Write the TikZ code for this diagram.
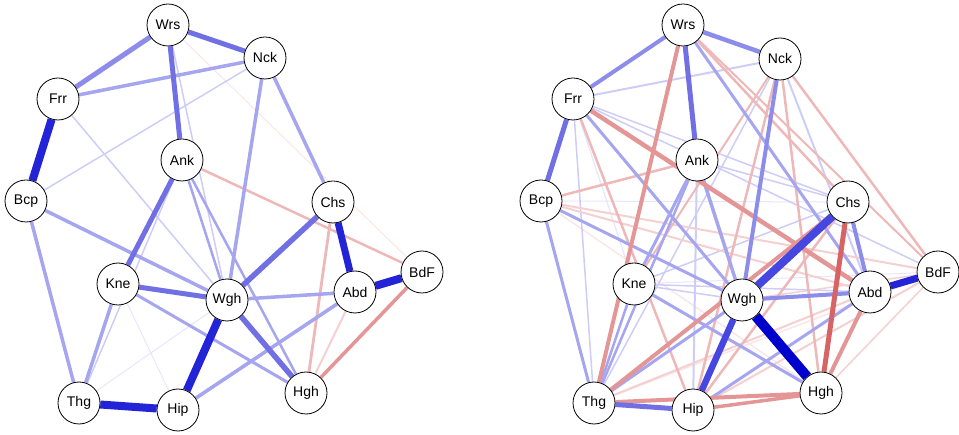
\documentclass[tikz,border=0pt]{standalone}
\usepackage{fontspec}
\setsansfont{Liberation Sans}
\usetikzlibrary{backgrounds}
\definecolor{B0}{RGB}{0,0,204}
\definecolor{B1}{RGB}{35,35,216}
\definecolor{Bx}{RGB}{70,70,224}
\definecolor{B2}{RGB}{112,112,228}
\definecolor{B2l}{RGB}{140,140,234}
\definecolor{B3}{RGB}{165,165,240}
\definecolor{B4}{RGB}{205,205,248}
\definecolor{B5}{RGB}{230,230,252}
\definecolor{R1}{RGB}{214,100,100}
\definecolor{R2}{RGB}{228,150,150}
\definecolor{R3}{RGB}{238,184,184}
\definecolor{R4}{RGB}{244,208,208}
\definecolor{R5}{RGB}{250,230,230}
\tikzset{
  nd/.style={circle,draw=black,line width=0.8pt,fill=white,minimum size=42pt,inner sep=0pt,
    font=\sffamily\fontsize{14}{16}\selectfont},
  ed/.style 2 args={draw=#1,line width=#2pt}
}
\begin{document}
\begin{tikzpicture}[x=1pt,y=-1pt]
\useasboundingbox (0,0) rectangle (959,435);
\foreach \n/\x/\y in {Wrs/168/25,Nck/265/58,Frr/58/99,Ank/182/160,Bcp/26/201,Chs/333/202,Kne/118/284,Wgh/227/300,Abd/355/292,BdF/422/272,Thg/79/403,Hip/178/410,Hgh/306/393}
  \node[nd] (l\n) at (\x,\y) {\n};
\foreach \n/\x/\y in {Wrs/683/25,Nck/780/59,Frr/573/99,Ank/697/160,Bcp/541/201,Chs/848/202,Kne/634/284,Wgh/742/300,Abd/870/292,BdF/938/272,Thg/594/403,Hip/693/410,Hgh/821/393}
  \node[nd] (r\n) at (\x,\y) {\n};
\begin{pgfonlayer}{background}
% ---------------- left network ----------------
\draw[ed={B5}{1}] (lThg) -- (lWgh);
\draw[ed={B5}{1}] (lKne) -- (lHip);
\draw[ed={R5}{1}] (lWrs) -- (lBdF);
\draw[ed={B4}{1.5}] (lBcp) -- (lNck);
\draw[ed={B4}{1.5}] (lFrr) -- (lWgh);
\draw[ed={B4}{1.5}] (lWrs) -- (lWgh);
\draw[ed={B4}{1.5}] (lAnk) -- (lThg);
\draw[ed={R4}{2}] (lAbd) -- (lHgh);
\draw[ed={R3}{2.5}] (lAnk) -- (lBdF);
\draw[ed={R3}{2.8}] (lChs) -- (lHgh);
\draw[ed={R2}{3.5}] (lBdF) -- (lHgh);
\draw[ed={B3}{2.5}] (lAnk) -- (lWgh);
\draw[ed={B3}{2.5}] (lAnk) -- (lHgh);
\draw[ed={B3}{3.5}] (lFrr) -- (lNck);
\draw[ed={B3}{3.5}] (lNck) -- (lWgh);
\draw[ed={B3}{3.5}] (lNck) -- (lChs);
\draw[ed={B3}{3.5}] (lBcp) -- (lThg);
\draw[ed={B3}{3.5}] (lBcp) -- (lWgh);
\draw[ed={B3}{3.5}] (lKne) -- (lThg);
\draw[ed={B3}{3.5}] (lWgh) -- (lAbd);
\draw[ed={B3}{3.5}] (lHip) -- (lAbd);
\draw[ed={B3}{3}] (lKne) -- (lHgh);
\draw[ed={B2l}{5}] (lWrs) -- (lFrr);
\draw[ed={B2}{5}] (lWrs) -- (lNck);
\draw[ed={B2}{5}] (lWrs) -- (lAnk);
\draw[ed={B2}{5}] (lAnk) -- (lKne);
\draw[ed={B2}{5}] (lKne) -- (lWgh);
\draw[ed={B2}{5.5}] (lChs) -- (lWgh);
\draw[ed={B2}{5.5}] (lWgh) -- (lHgh);
\draw[ed={B1}{7}] (lChs) -- (lAbd);
\draw[ed={B1}{8}] (lFrr) -- (lBcp);
\draw[ed={B1}{8}] (lThg) -- (lHip);
\draw[ed={B1}{8}] (lWgh) -- (lHip);
\draw[ed={B1}{8}] (lAbd) -- (lBdF);
% ---------------- right network ----------------
\draw[ed={B5}{1}] (rBcp) -- (rChs);
\draw[ed={B5}{1}] (rKne) -- (rBdF);
\draw[ed={R5}{1.5}] (rThg) -- (rBdF);
\draw[ed={R5}{1.5}] (rBcp) -- (rHgh);
\draw[ed={B5}{1.2}] (rFrr) -- (rKne);
\draw[ed={B4}{1.5}] (rKne) -- (rAbd);
\draw[ed={B4}{1.5}] (rKne) -- (rChs);
\draw[ed={B4}{1.5}] (rFrr) -- (rChs);
\draw[ed={B4}{1.5}] (rFrr) -- (rBdF);
\draw[ed={B4}{1.5}] (rFrr) -- (rThg);
\draw[ed={B4}{1.5}] (rAnk) -- (rChs);
\draw[ed={B4}{1.5}] (rKne) -- (rWgh);
\draw[ed={B4}{2}] (rAnk) -- (rHip);
\draw[ed={B4}{2}] (rFrr) -- (rNck);
\draw[ed={B4}{2}] (rNck) -- (rAbd);
\draw[ed={B4}{1.5}] (rNck) -- (rThg);
\draw[ed={R4}{1.5}] (rHgh) -- (rBdF);
\draw[ed={R4}{2}] (rBcp) -- (rAbd);
\draw[ed={R4}{2}] (rBcp) -- (rBdF);
\draw[ed={R4}{2}] (rThg) -- (rAbd);
\draw[ed={R4}{2}] (rHip) -- (rBdF);
\draw[ed={R4}{1.5}] (rWgh) -- (rBdF);
\draw[ed={R3}{2}] (rNck) -- (rKne);
\draw[ed={R3}{2}] (rWrs) -- (rBdF);
\draw[ed={R3}{2.5}] (rBcp) -- (rAnk);
\draw[ed={R3}{2.5}] (rFrr) -- (rHip);
\draw[ed={R3}{2.5}] (rNck) -- (rHip);
\draw[ed={R3}{2.5}] (rNck) -- (rHgh);
\draw[ed={R3}{2.5}] (rNck) -- (rBdF);
\draw[ed={R3}{2.5}] (rWrs) -- (rChs);
\draw[ed={R3}{2.5}] (rHip) -- (rChs);
\draw[ed={B3}{2.5}] (rAnk) -- (rThg);
\draw[ed={B3}{2.5}] (rKne) -- (rThg);
\draw[ed={B3}{3}] (rWrs) -- (rAbd);
\draw[ed={B3}{3}] (rFrr) -- (rWgh);
\draw[ed={B3}{3}] (rAnk) -- (rKne);
\draw[ed={B3}{3}] (rKne) -- (rHgh);
\draw[ed={B3}{3}] (rHip) -- (rAbd);
\draw[ed={B3}{3}] (rThg) -- (rWgh);
\draw[ed={B3}{3}] (rBcp) -- (rThg);
\draw[ed={B3}{3}] (rBcp) -- (rWgh);
\draw[ed={B3}{3.5}] (rAnk) -- (rWgh);
\draw[ed={R2}{3.5}] (rHip) -- (rHgh);
\draw[ed={R2}{4}] (rWrs) -- (rThg);
\draw[ed={R2}{4}] (rThg) -- (rHgh);
\draw[ed={R2}{4}] (rThg) -- (rChs);
\draw[ed={R2}{4}] (rAbd) -- (rHgh);
\draw[ed={R2}{4.5}] (rFrr) -- (rAbd);
\draw[ed={B2l}{4}] (rWrs) -- (rFrr);
\draw[ed={B2l}{4.5}] (rWrs) -- (rNck);
\draw[ed={B2l}{4}] (rNck) -- (rWgh);
\draw[ed={B2l}{4}] (rWgh) -- (rAbd);
\draw[ed={B2l}{4}] (rChs) -- (rAbd);
\draw[ed={B2}{5}] (rWrs) -- (rAnk);
\draw[ed={B2}{5}] (rFrr) -- (rBcp);
\draw[ed={B2}{5}] (rThg) -- (rHip);
\draw[ed={R1}{5}] (rChs) -- (rHgh);
\draw[ed={Bx}{6.5}] (rWgh) -- (rHip);
\draw[ed={Bx}{8}] (rWgh) -- (rChs);
\draw[ed={B1}{7}] (rAbd) -- (rBdF);
\draw[ed={B0}{10}] (rWgh) -- (rHgh);
\end{pgfonlayer}
\end{tikzpicture}
\end{document}
